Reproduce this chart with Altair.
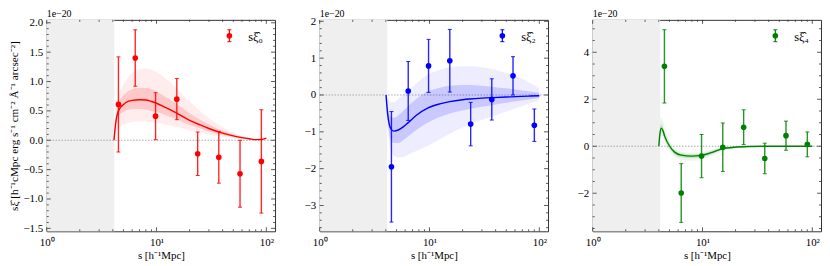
import altair as alt
import pandas as pd
import numpy as np

FONT = "Liberation Serif"
W, H = 230, 213
XDOM = [1.0, 120.0]
SHADE = [1.0, 4.12]

# data points (units of 1e-20)
XS = [4.5, 6.4, 9.8, 15.3, 23.7, 36.9, 57.6, 90.1]
Y0 = [0.61, 1.40, 0.41, 0.70, -0.23, -0.29, -0.57, -0.36]
E0 = [0.81, 0.48, 0.40, 0.35, 0.37, 0.44, 0.57, 0.88]
Y2 = [-1.95, 0.11, 0.79, 0.93, -0.79, -0.12, 0.52, -0.82]
E2 = [1.50, 0.80, 0.72, 0.85, 0.59, 0.56, 0.52, 0.44]
Y4 = [3.40, -1.99, -0.42, -0.04, 0.81, -0.52, 0.45, 0.08]
E4 = [1.56, 1.25, 0.92, 1.03, 0.74, 0.65, 0.62, 0.53]

# model curves: monopole
XG0 = [4.1, 4.25, 4.5, 5, 5.5, 6, 7, 8, 9, 10, 12, 15, 20, 25, 30, 40, 50, 60, 70, 80, 90, 100]
MED0 = [0, 0.30, 0.50, 0.61, 0.66, 0.68, 0.69, 0.685, 0.66, 0.63, 0.56, 0.47, 0.34, 0.26, 0.20, 0.12, 0.075, 0.045, 0.025, 0.01, 0.012, 0.035]
UPO0 = [0, 0.45, 0.75, 0.95, 1.07, 1.15, 1.21, 1.22, 1.20, 1.16, 1.06, 0.90, 0.66, 0.50, 0.38, 0.22, 0.13, 0.07, 0.04, 0.02, 0.02, 0.045]
LOO0 = [0, 0.12, 0.20, 0.26, 0.29, 0.31, 0.32, 0.32, 0.31, 0.30, 0.27, 0.23, 0.17, 0.13, 0.10, 0.06, 0.03, 0.015, 0.005, 0.0, 0.0, 0.02]
UPI0 = [0, 0.36, 0.60, 0.76, 0.83, 0.87, 0.89, 0.89, 0.87, 0.83, 0.74, 0.63, 0.46, 0.35, 0.27, 0.16, 0.10, 0.06, 0.035, 0.015, 0.015, 0.04]
LOI0 = [0, 0.24, 0.41, 0.48, 0.52, 0.53, 0.53, 0.52, 0.50, 0.48, 0.43, 0.36, 0.26, 0.20, 0.15, 0.09, 0.055, 0.03, 0.015, 0.005, 0.008, 0.03]

# quadrupole
XG2 = [4.02, 4.15, 4.3, 4.5, 4.75, 5.2, 5.8, 6.4, 7.6, 9.7, 12.4, 15.3, 20, 23.2, 30, 37.8, 50, 61.5, 80, 100]
MED2 = [0, -0.5, -0.8, -0.94, -0.98, -0.95, -0.86, -0.75, -0.55, -0.35, -0.24, -0.18, -0.13, -0.11, -0.085, -0.07, -0.055, -0.045, -0.03, -0.02]
UPO2 = [0, -0.08, -0.15, -0.2, -0.2, -0.1, 0.02, 0.12, 0.31, 0.56, 0.68, 0.75, 0.78, 0.78, 0.75, 0.70, 0.60, 0.52, 0.35, 0.18]
LOO2 = [0, -0.8, -1.3, -1.55, -1.65, -1.7, -1.68, -1.62, -1.52, -1.38, -1.2, -1.05, -0.88, -0.8, -0.68, -0.58, -0.45, -0.36, -0.24, -0.14]
UPI2 = [0, -0.3, -0.5, -0.6, -0.62, -0.55, -0.42, -0.3, -0.1, 0.1, 0.2, 0.25, 0.27, 0.27, 0.25, 0.22, 0.18, 0.15, 0.1, 0.06]
LOI2 = [0, -0.65, -1.05, -1.25, -1.3, -1.3, -1.22, -1.12, -0.95, -0.75, -0.6, -0.5, -0.42, -0.38, -0.32, -0.27, -0.21, -0.17, -0.12, -0.08]

# hexadecapole
XG4 = [4.0, 4.1, 4.22, 4.35, 4.53, 5.02, 5.57, 6.41, 7.9, 9.73, 12, 14.8, 19.5, 27.6, 40, 60, 100]
MED4 = [0, 0.55, 0.77, 0.68, 0.42, 0.0, -0.25, -0.38, -0.42, -0.39, -0.27, -0.12, -0.04, -0.01, 0, 0, 0]
UPO4 = [0, 0.9, 1.22, 1.1, 0.8, 0.25, -0.08, -0.22, -0.27, -0.24, -0.14, -0.04, 0.0, 0.01, 0.005, 0.0, 0.0]
LOO4 = [0, 0.3, 0.45, 0.38, 0.15, -0.22, -0.45, -0.58, -0.62, -0.57, -0.42, -0.25, -0.1, -0.03, -0.01, 0, 0]
UPI4 = [0, 0.7, 0.95, 0.85, 0.58, 0.1, -0.16, -0.3, -0.34, -0.31, -0.2, -0.08, -0.02, 0, 0, 0, 0]
LOI4 = [0, 0.42, 0.6, 0.52, 0.28, -0.1, -0.35, -0.47, -0.51, -0.48, -0.35, -0.17, -0.07, -0.02, -0.005, 0, 0]

XTICKS = [1, 10, 100]
XTICK_LABELS = ["10⁰", "10¹", "10²"]
XMINOR = [m * d for d in (1, 10) for m in range(2, 10)]

YTITLE = "sξ̂ [h⁻¹cMpc erg s⁻¹ cm⁻² Å⁻¹ arcsec⁻²]"
XTITLE = "s [h⁻¹Mpc]"

label_expr = " : ".join(
    f"datum.value == {v} ? '{t}'" for v, t in zip(XTICKS[:-1], XTICK_LABELS[:-1])
) + f" : '{XTICK_LABELS[-1]}'"


def panel(color, ys, errs, xg, med, upo, loo, upi, loi, ydom, ymaj, yminstep, yfmt, leg, ytitle):
    xaxis = alt.Axis(values=XTICKS, labelExpr=label_expr, ticks=False, tickSize=0, domain=False,
                     grid=False, labelFlush=False, labelOverlap=False, labelPadding=5,
                     labelFontSize=11, title=XTITLE, titleFontSize=11, titleFontWeight="normal",
                     titlePadding=2)
    yaxis = alt.Axis(values=ymaj, format=yfmt, ticks=False, tickSize=0, domain=False, grid=False,
                     labelPadding=4, labelFontSize=11, title=ytitle, titleFontSize=11.3,
                     titleFontWeight="normal", titlePadding=3)
    xs = alt.Scale(type="log", domain=XDOM, nice=False)
    ysc = alt.Scale(domain=ydom, nice=False, zero=False)
    X = alt.X("x:Q", scale=xs, axis=xaxis)
    Y = alt.Y("y:Q", scale=ysc, axis=yaxis)

    pts = pd.DataFrame({"x": XS, "y": ys,
                        "lo": [y - e for y, e in zip(ys, errs)],
                        "hi": [y + e for y, e in zip(ys, errs)]})
    curve = pd.DataFrame({"x": xg, "y": med, "uo": upo, "lo": loo, "ui": upi, "li": loi})

    shade = alt.Chart(pd.DataFrame({"x": [SHADE[0]], "x2": [SHADE[1]]})).mark_rect(
        color="#efefef").encode(x=X, x2="x2:Q", y=alt.value(0), y2=alt.value(H))
    zero = alt.Chart(pd.DataFrame({"y": [0.0]})).mark_rule(
        color="#a0a0a0", strokeDash=[1.5, 1.5], strokeWidth=0.9).encode(
        y=Y, x=alt.value(0), x2=alt.value(W))
    band_o = alt.Chart(curve).mark_area(color=color, opacity=0.07, interpolate="monotone").encode(
        x=X, y=alt.Y("lo:Q", scale=ysc, axis=yaxis), y2="uo:Q")
    band_i = alt.Chart(curve).mark_area(color=color, opacity=0.15, interpolate="monotone").encode(
        x=X, y=alt.Y("li:Q", scale=ysc, axis=yaxis), y2="ui:Q")
    line = alt.Chart(curve).mark_line(color=color, strokeWidth=1.4, interpolate="monotone").encode(
        x=X, y=Y)
    bars = alt.Chart(pts).mark_rule(color=color, strokeWidth=1.4, opacity=0.85).encode(
        x=X, y=alt.Y("lo:Q", scale=ysc, axis=yaxis), y2="hi:Q")
    cap_hi = alt.Chart(pts).mark_tick(color=color, orient="horizontal", size=4, thickness=1,
                                      opacity=0.85).encode(x=X, y=alt.Y("hi:Q", scale=ysc, axis=yaxis))
    cap_lo = alt.Chart(pts).mark_tick(color=color, orient="horizontal", size=4, thickness=1,
                                      opacity=0.85).encode(x=X, y=alt.Y("lo:Q", scale=ysc, axis=yaxis))
    dots = alt.Chart(pts).mark_circle(color=color, size=32, opacity=1).encode(x=X, y=Y)

    # legend
    lx, ly = 184, 16
    leg_bar = alt.Chart(pd.DataFrame({"k": [0]})).mark_rule(color=color, strokeWidth=1.2).encode(
        x=alt.value(lx), y=alt.value(ly - 6), y2=alt.value(ly + 6))
    leg_c1 = alt.Chart(pd.DataFrame({"k": [0]})).mark_rule(color=color, strokeWidth=1).encode(
        x=alt.value(lx - 2), x2=alt.value(lx + 2), y=alt.value(ly - 6))
    leg_c2 = alt.Chart(pd.DataFrame({"k": [0]})).mark_rule(color=color, strokeWidth=1).encode(
        x=alt.value(lx - 2), x2=alt.value(lx + 2), y=alt.value(ly + 6))
    leg_dot = alt.Chart(pd.DataFrame({"k": [0]})).mark_circle(color=color, size=32, opacity=1).encode(
        x=alt.value(lx), y=alt.value(ly))
    leg_txt = alt.Chart(pd.DataFrame({"t": [leg]})).mark_text(
        align="left", baseline="middle", fontSize=12.5, font=FONT, color="black").encode(
        x=alt.value(lx + 19), y=alt.value(ly + 1), text="t:N")
    offset = alt.Chart(pd.DataFrame({"t": ["1e−20"]})).mark_text(
        align="left", baseline="alphabetic", fontSize=10, font=FONT, color="black").encode(
        x=alt.value(0), y=alt.value(-2.5), text="t:N")

    # inward ticks
    ymin_vals = [v for v in np.arange(np.ceil(ydom[0] / yminstep) * yminstep, ydom[1], yminstep)
                 if min(abs(v - m) for m in ymaj) > 1e-6]
    ymaj_df = pd.DataFrame({"y": ymaj})
    ymin_df = pd.DataFrame({"y": ymin_vals})
    xmaj_df = pd.DataFrame({"x": XTICKS})
    xmin_df = pd.DataFrame({"x": XMINOR})
    tk = dict(color="#333333", strokeWidth=0.8)
    ticks = []
    for df, L in ((ymaj_df, 4), (ymin_df, 2)):
        ticks.append(alt.Chart(df).mark_rule(**tk).encode(y=Y, x=alt.value(0), x2=alt.value(L)))
        ticks.append(alt.Chart(df).mark_rule(**tk).encode(y=Y, x=alt.value(W), x2=alt.value(W - L)))
    for df, L in ((xmaj_df, 4), (xmin_df, 2)):
        ticks.append(alt.Chart(df).mark_rule(**tk).encode(x=X, y=alt.value(H), y2=alt.value(H - L)))
        ticks.append(alt.Chart(df).mark_rule(**tk).encode(x=X, y=alt.value(0), y2=alt.value(L)))

    return alt.layer(shade, zero, band_o, band_i, line, bars, cap_hi, cap_lo, dots,
                     leg_bar, leg_c1, leg_c2, leg_dot, leg_txt, offset, *ticks).properties(
        width=W, height=H)


p1 = panel("#ff0000", Y0, E0, XG0, MED0, UPO0, LOO0, UPI0, LOI0, [-1.55, 2.05],
           [-1.5, -1.0, -0.5, 0.0, 0.5, 1.0, 1.5, 2.0], 0.1, ".1f", "sξ̂₀", YTITLE)
p2 = panel("#0000ff", Y2, E2, XG2, MED2, UPO2, LOO2, UPI2, LOI2, [-3.7, 2.04],
           [-3, -2, -1, 0, 1, 2], 0.2, "d", "sξ̂₂", "")
p3 = panel("#008000", Y4, E4, XG4, MED4, UPO4, LOO4, UPI4, LOI4, [-3.62, 5.38],
           [-2, 0, 2, 4], 0.5, "d", "sξ̂₄", "")

chart = alt.hconcat(p1, p2, p3, spacing=45, bounds="flush").properties(
    padding=0,
).configure_view(stroke="#333333", strokeWidth=1).configure_axis(
    labelFont=FONT, titleFont=FONT, labelColor="black", titleColor="black"
).configure_text(font=FONT)

chart.save("out.html", embed_options={"renderer": "svg", "actions": False})
